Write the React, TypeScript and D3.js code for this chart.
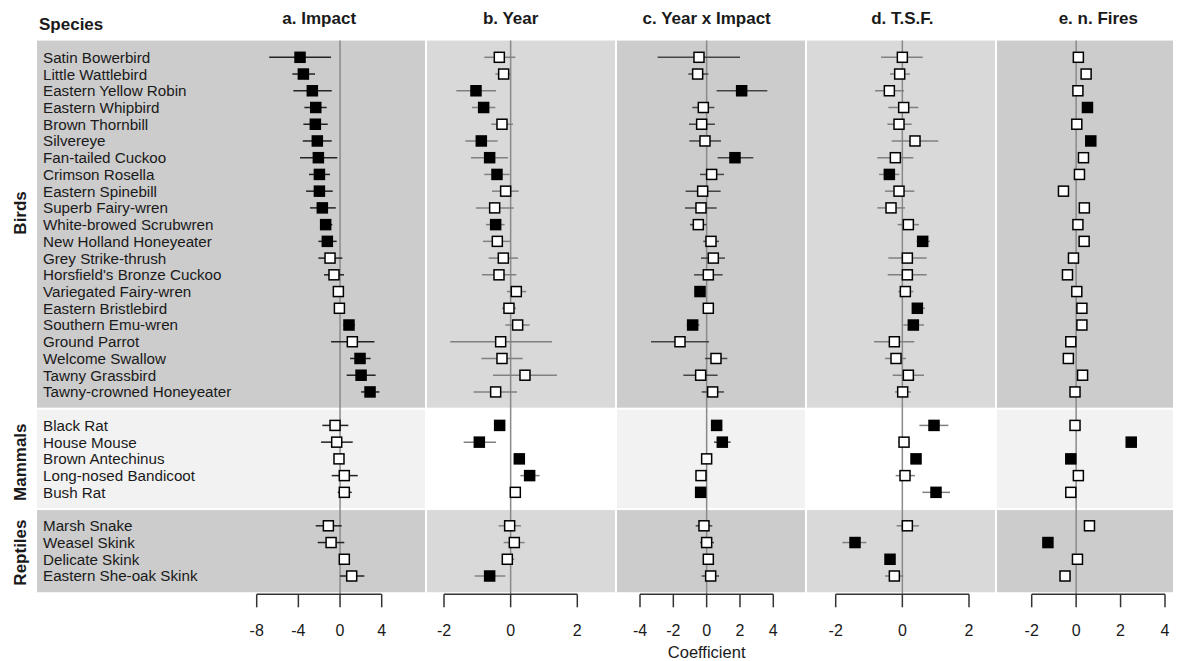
import * as d3 from "d3";

// species, in plotting order
const birds = [
  "Satin Bowerbird", "Little Wattlebird", "Eastern Yellow Robin", "Eastern Whipbird",
  "Brown Thornbill", "Silvereye", "Fan-tailed Cuckoo", "Crimson Rosella",
  "Eastern Spinebill", "Superb Fairy-wren", "White-browed Scrubwren", "New Holland Honeyeater",
  "Grey Strike-thrush", "Horsfield's Bronze Cuckoo", "Variegated Fairy-wren", "Eastern Bristlebird",
  "Southern Emu-wren", "Ground Parrot", "Welcome Swallow", "Tawny Grassbird",
  "Tawny-crowned Honeyeater",
];
const mammals = ["Black Rat", "House Mouse", "Brown Antechinus", "Long-nosed Bandicoot", "Bush Rat"];
const reptiles = ["Marsh Snake", "Weasel Skink", "Delicate Skink", "Eastern She-oak Skink"];

const groupNames = ["Birds", "Mammals", "Reptiles"];
const panelTitles = ["a. Impact", "b. Year", "c. Year x Impact", "d. T.S.F.", "e. n. Fires"];
const panelDomains: [number, number][] = [[-8, 4], [-2, 2], [-4, 4], [-2, 2], [-2, 4]];
const panelTicks = [[-8, -4, 0, 4], [-2, 0, 2], [-4, -2, 0, 2, 4], [-2, 0, 2], [-2, 0, 2, 4]];

// a. Impact
const impactEst = [-3.84, -3.52, -2.66, -2.33, -2.37, -2.18, -2.08, -1.98, -1.98, -1.7, -1.38, -1.22, -0.96, -0.58, -0.16, -0.06, 0.86, 1.18, 1.92, 2.02, 2.88, -0.48, -0.32, -0.1, 0.41, 0.41, -1.12, -0.86, 0.41, 1.12];
const impactLo = [-6.8, -4.58, -4.48, -3.42, -3.52, -3.58, -3.84, -2.98, -3.26, -2.88, -1.92, -2.08, -2.08, -1.54, -0.35, -0.25, 0.32, -0.86, 0.96, 0.64, 2.02, -1.7, -1.82, -0.3, -0.8, -0.22, -2.33, -2.14, 0.2, 0.0];
const impactHi = [-0.86, -2.4, -0.8, -1.28, -1.18, -0.8, -0.26, -0.96, -0.7, -0.41, -0.74, -0.32, 0.22, 0.38, 0.03, 0.13, 1.44, 3.3, 2.94, 3.42, 3.78, 0.8, 1.22, 0.1, 1.7, 1.12, 0.16, 0.41, 0.62, 2.33];
const impactSig = [1, 1, 1, 1, 1, 1, 1, 1, 1, 1, 1, 1, 0, 0, 0, 0, 1, 0, 1, 1, 1, 0, 0, 0, 0, 0, 0, 0, 0, 0];

// b. Year
const yearEst = [-0.34, -0.21, -1.04, -0.81, -0.26, -0.88, -0.63, -0.41, -0.15, -0.48, -0.45, -0.4, -0.22, -0.35, 0.17, -0.05, 0.21, -0.3, -0.26, 0.43, -0.45, -0.33, -0.94, 0.26, 0.57, 0.14, -0.03, 0.11, -0.1, -0.63];
const yearLo = [-0.79, -0.46, -1.63, -1.16, -0.58, -1.36, -1.19, -0.79, -0.56, -1.04, -0.74, -0.83, -0.66, -0.86, -0.11, -0.26, -0.16, -1.81, -0.88, -0.53, -1.11, -0.4, -1.41, 0.2, 0.29, 0.08, -0.36, -0.21, -0.26, -1.08];
const yearHi = [0.14, -0.01, -0.44, -0.46, 0.07, -0.39, -0.08, -0.03, 0.24, 0.09, -0.18, -0.01, 0.22, 0.17, 0.47, 0.16, 0.57, 1.24, 0.36, 1.39, 0.19, -0.26, -0.44, 0.32, 0.87, 0.2, 0.31, 0.42, 0.11, -0.16];
const yearSig = [0, 0, 1, 1, 0, 1, 1, 1, 0, 0, 1, 0, 0, 0, 0, 0, 0, 0, 0, 0, 0, 1, 1, 1, 1, 0, 0, 0, 0, 1];

// c. Year x Impact
const interEst = [-0.46, -0.54, 2.1, -0.2, -0.3, -0.1, 1.7, 0.3, -0.24, -0.34, -0.5, 0.26, 0.4, 0.1, -0.4, 0.1, -0.84, -1.6, 0.56, -0.36, 0.36, 0.6, 0.94, 0.0, -0.34, -0.36, -0.16, 0.0, 0.1, 0.24];
const interLo = [-2.94, -1.1, 0.6, -0.86, -1.06, -1.04, 0.66, -0.4, -1.26, -1.3, -1.0, -0.2, -0.34, -0.76, -0.74, -0.05, -1.2, -3.34, -0.1, -1.4, -0.3, 0.5, 0.44, -0.12, -0.6, -0.46, -0.66, -0.4, -0.05, -0.3];
const interHi = [2.0, 0.1, 3.64, 0.46, 0.5, 0.86, 2.8, 1.04, 0.84, 0.6, 0.0, 0.74, 1.1, 0.96, -0.06, 0.25, -0.44, 0.14, 1.24, 0.66, 1.04, 0.7, 1.44, 0.12, 0.0, -0.26, 0.34, 0.44, 0.25, 0.74];
const interSig = [0, 0, 1, 0, 0, 0, 1, 0, 0, 0, 0, 0, 0, 0, 1, 0, 1, 0, 0, 0, 0, 1, 1, 0, 0, 1, 0, 0, 0, 0];

// d. T.S.F.
const tsfEst = [0.0, -0.08, -0.39, 0.04, -0.1, 0.38, -0.21, -0.39, -0.1, -0.34, 0.18, 0.61, 0.15, 0.15, 0.09, 0.45, 0.33, -0.24, -0.19, 0.18, 0.01, 0.95, 0.05, 0.41, 0.08, 1.01, 0.15, -1.42, -0.37, -0.24];
const tsfLo = [-0.64, -0.37, -0.82, -0.42, -0.45, -0.32, -0.75, -0.7, -0.52, -0.75, -0.14, 0.43, -0.42, -0.44, -0.12, 0.31, 0.03, -0.85, -0.52, -0.29, -0.22, 0.51, -0.12, 0.35, -0.2, 0.6, -0.17, -1.8, -0.43, -0.52];
const tsfHi = [0.61, 0.23, 0.05, 0.48, 0.28, 1.08, 0.33, -0.09, 0.36, 0.08, 0.5, 0.83, 0.73, 0.73, 0.33, 0.68, 0.65, 0.36, 0.11, 0.65, 0.26, 1.38, 0.21, 0.47, 0.38, 1.43, 0.5, -1.08, -0.31, 0.03];
const tsfSig = [0, 0, 0, 0, 0, 0, 0, 1, 0, 0, 0, 1, 0, 0, 0, 1, 1, 0, 0, 0, 0, 1, 0, 1, 0, 1, 0, 1, 1, 0];

// e. n. Fires (no intervals drawn)
const firesEst = [0.1, 0.45, 0.08, 0.51, 0.03, 0.66, 0.33, 0.15, -0.57, 0.37, 0.08, 0.36, -0.12, -0.39, 0.03, 0.26, 0.26, -0.24, -0.35, 0.29, -0.05, -0.05, 2.48, -0.24, 0.1, -0.24, 0.6, -1.27, 0.06, -0.5];
const firesSig = [0, 0, 0, 1, 0, 1, 0, 0, 0, 0, 0, 0, 0, 0, 0, 0, 0, 0, 0, 0, 0, 0, 1, 1, 0, 0, 0, 1, 0, 0];

const W = 1177;
const H = 661;
const FONT = "'Liberation Sans', Arial, Helvetica, sans-serif";

const panels = [
  { est: impactEst, lo: impactLo, hi: impactHi, sig: impactSig, range: [256.7, 381.7], bar: "#222" },
  { est: yearEst, lo: yearLo, hi: yearHi, sig: yearSig, range: [444, 577.3], bar: "#808080" },
  { est: interEst, lo: interLo, hi: interHi, sig: interSig, range: [640, 773.3], bar: "#444" },
  { est: tsfEst, lo: tsfLo, hi: tsfHi, sig: tsfSig, range: [835.7, 969], bar: "#808080" },
  { est: firesEst, lo: null, hi: null, sig: firesSig, range: [1031.7, 1165], bar: "none" },
];
const panelEdges = [36, 426, 616, 806, 996, 1174];

// slot of each species on the vertical scale: groups separated by one empty slot
const groups = [birds, mammals, reptiles];
const slots: number[] = [];
const labels: string[] = [];
const groupSpan: [number, number][] = [];
let s = 0;
groups.forEach((g, gi) => {
  const start = s;
  g.forEach((name) => {
    slots.push(s);
    labels.push(name);
    s += 1;
  });
  groupSpan.push([start, s - 1]);
  if (gi < groups.length - 1) s += 1;
});

const y = d3.scaleLinear().domain([0, 31]).range([57.3, 576]);
const groupLabelSlot = [9.3, 24.2, 29.6];
const axisY = 594.3;
const SQ = 10;

const App = () => {
  const xs = panels.map((p, i) => d3.scaleLinear().domain(panelDomains[i]).range(p.range));

  return (
    <div style={{ position: "absolute", left: 0, top: 0 }}>
      <svg width={W} height={H} style={{ display: "block", fontFamily: FONT }}>
        <rect width={W} height={H} fill="#fff" />
        {/* background bands */}
        {panels.map((_, i) =>
          groupSpan.map(([a, b], gi) => {
            const top = y(a - 1) + (gi === 0 ? 0 : 1);
            const bottom = y(b + 1) - (gi === groupSpan.length - 1 ? 0.5 : 1);
            const fill = gi === 1 ? (i % 2 === 0 ? "#f2f2f2" : "#ffffff") : i % 2 === 0 ? "#cccccc" : "#d9d9d9";
            return (
              <rect
                key={`bg-${i}-${gi}`}
                x={panelEdges[i] + 1}
                y={top}
                width={panelEdges[i + 1] - panelEdges[i] - 2}
                height={bottom - top}
                fill={fill}
              />
            );
          })
        )}
        {/* zero lines */}
        {xs.map((x, i) => (
          <line key={`z-${i}`} x1={x(0)} x2={x(0)} y1={y(-1)} y2={axisY} stroke="#8a8a8a" strokeWidth={1.5} />
        ))}
        {/* species labels */}
        {labels.map((name, k) => (
          <text key={`lab-${k}`} x={43} y={y(slots[k])} dy="0.36em" fontSize={15.2} fill="#1a1a1a">
            {name}
          </text>
        ))}
        {/* group labels */}
        {groupNames.map((g, gi) => (
          <text
            key={`g-${g}`}
            transform={`translate(25.5,${y(groupLabelSlot[gi])}) rotate(-90)`}
            textAnchor="middle"
            fontSize={17}
            fontWeight="bold"
            fill="#1a1a1a"
          >
            {g}
          </text>
        ))}
        <text x={39} y={30} fontSize={17} fontWeight="bold" fill="#1a1a1a">
          Species
        </text>
        {/* panels */}
        {panels.map((p, i) => {
          const x = xs[i];
          const [d0, d1] = panelDomains[i];
          return (
            <g key={`p-${i}`}>
              <text x={(x(d0) + x(d1)) / 2} y={24} textAnchor="middle" fontSize={17} fontWeight="bold" fill="#1a1a1a">
                {panelTitles[i]}
              </text>
              {p.lo &&
                p.est.map((_, k) => (
                  <line
                    key={`e-${k}`}
                    x1={x(p.lo![k])}
                    x2={x(p.hi![k])}
                    y1={y(slots[k])}
                    y2={y(slots[k])}
                    stroke={p.bar}
                    strokeWidth={1.5}
                  />
                ))}
              {p.est.map((v, k) => (
                <rect
                  key={`m-${k}`}
                  x={x(v) - SQ / 2}
                  y={y(slots[k]) - SQ / 2}
                  width={SQ}
                  height={SQ}
                  fill={p.sig[k] ? "#000" : "#fff"}
                  stroke="#000"
                  strokeWidth={1.5}
                />
              ))}
              {/* axis */}
              <line x1={x(d0)} x2={x(d1)} y1={axisY} y2={axisY} stroke="#333" strokeWidth={1.5} />
              {panelTicks[i].map((t) => (
                <g key={`t-${t}`}>
                  <line x1={x(t)} x2={x(t)} y1={axisY} y2={axisY + 13} stroke="#333" strokeWidth={1.5} />
                  <text x={x(t)} y={axisY + 42} textAnchor="middle" fontSize={16} fill="#1a1a1a">
                    {t}
                  </text>
                </g>
              ))}
            </g>
          );
        })}
        <text x={xs[2](0)} y={658} textAnchor="middle" fontSize={16.5} fill="#1a1a1a">
          Coefficient
        </text>
      </svg>
    </div>
  );
};

export default App;
